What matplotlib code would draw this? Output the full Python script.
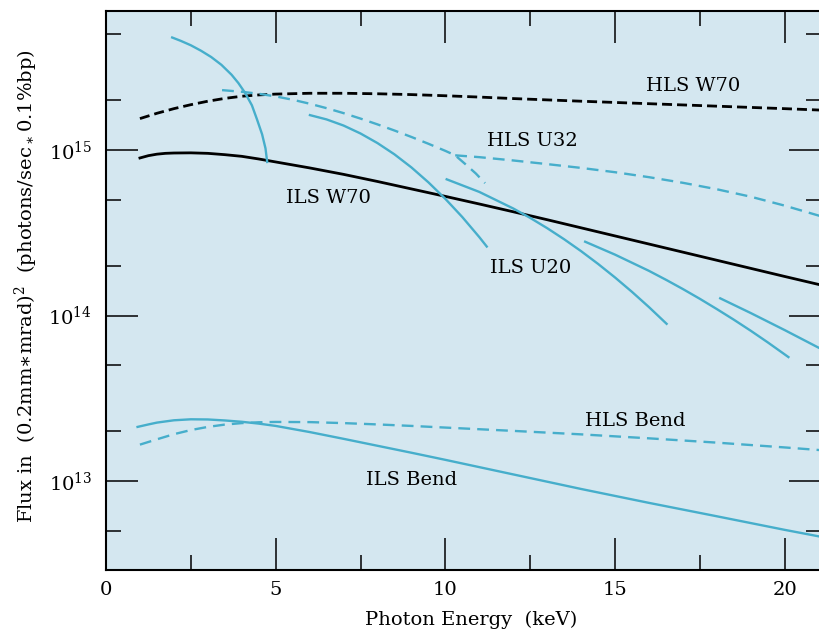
import numpy as np
import matplotlib
matplotlib.use("Agg")
from matplotlib import pyplot as plt
from matplotlib.ticker import LogLocator, MultipleLocator, LogFormatterMathtext, NullFormatter

plt.rcParams['font.family'] = ['DejaVu Serif']
plt.rcParams['mathtext.default'] = 'regular'

# photon energy (keV) and log10 of flux
hls_w70_x = [1.0, 1.5, 2.0, 2.5, 3.0, 3.5, 4.0, 4.5, 5.0, 6.0, 7.0, 8.0, 9.0, 10.0, 11.0, 12.0, 14.0, 16.0, 18.0, 20.0, 21.1]
hls_w70_log = [15.19, 15.222, 15.25, 15.274, 15.295, 15.312, 15.325, 15.333, 15.338, 15.343, 15.343, 15.34,
               15.335, 15.328, 15.32, 15.311, 15.295, 15.28, 15.265, 15.25, 15.241]

ils_w70_x = [1.0, 1.25, 1.5, 1.75, 2.0, 2.5, 3.0, 3.5, 4.0, 4.5, 5.0, 6.0, 7.0, 8.0, 9.0, 10.0, 11.0, 12.0,
             13.0, 14.0, 15.0, 16.0, 17.0, 18.0, 19.0, 20.0, 21.1]
ils_w70_log = [14.952, 14.966, 14.975, 14.98, 14.982, 14.983, 14.98, 14.972, 14.962, 14.946, 14.928, 14.892,
               14.853, 14.81, 14.765, 14.72, 14.674, 14.627, 14.579, 14.53, 14.481, 14.432, 14.383, 14.334,
               14.285, 14.236, 14.183]

# HLS U32, two pieces
hls_u32a_x = [3.42, 4.0, 4.5, 5.0, 5.5, 6.0, 6.5, 7.0, 7.5, 8.0, 8.5, 9.0, 9.5, 10.0, 10.29, 10.6, 10.9, 11.17]
hls_u32a_log = [15.362, 15.352, 15.34, 15.324, 15.304, 15.28, 15.253, 15.223, 15.19, 15.155, 15.118, 15.079,
                15.038, 14.995, 14.968, 14.913, 14.858, 14.80]
hls_u32b_x = [10.29, 11.0, 12.0, 13.0, 14.0, 15.0, 16.0, 17.0, 18.0, 19.0, 20.0, 21.1]
hls_u32b_log = [14.968, 14.957, 14.937, 14.915, 14.892, 14.866, 14.836, 14.802, 14.763, 14.718, 14.664, 14.598]

# ILS U20 harmonics
ils_u20_x = [
    [1.95, 2.2, 2.5, 2.8, 3.1, 3.4, 3.7, 3.9, 4.1, 4.3, 4.45, 4.6, 4.7, 4.75],
    [6.01, 6.5, 7.0, 7.5, 8.0, 8.5, 9.0, 9.5, 10.0, 10.5, 11.0, 11.22],
    [10.04, 11.0, 12.0, 12.5, 13.0, 13.5, 14.0, 14.5, 15.0, 15.5, 16.0, 16.52],
    [14.12, 15.0, 16.0, 16.52, 17.0, 17.5, 18.0, 18.5, 19.0, 19.5, 20.11],
    [18.1, 19.0, 20.0, 21.1],
]
ils_u20_log = [
    [15.68, 15.66, 15.633, 15.6, 15.562, 15.515, 15.455, 15.405, 15.345, 15.27, 15.185, 15.095, 15.01, 14.928],
    [15.211, 15.185, 15.148, 15.10, 15.042, 14.974, 14.895, 14.805, 14.705, 14.595, 14.474, 14.417],
    [14.823, 14.747, 14.647, 14.59, 14.528, 14.461, 14.389, 14.312, 14.23, 14.143, 14.051, 13.95],
    [14.446, 14.368, 14.27, 14.214, 14.16, 14.101, 14.039, 13.975, 13.908, 13.838, 13.749],
    [14.104, 14.015, 13.912, 13.795],
]

hls_bend_x = [1.0, 1.5, 2.0, 2.5, 3.0, 3.5, 4.0, 4.5, 5.0, 6.0, 7.0, 8.0, 9.0, 10.0, 12.0, 14.0, 16.0, 18.0, 20.0, 21.1]
hls_bend_log = [13.22, 13.252, 13.283, 13.308, 13.327, 13.341, 13.35, 13.355, 13.357, 13.356, 13.35, 13.342,
                13.333, 13.323, 13.303, 13.282, 13.258, 13.232, 13.203, 13.186]

ils_bend_x = [0.93, 1.25, 1.5, 2.0, 2.5, 3.0, 3.5, 4.0, 4.5, 5.0, 6.0, 7.0, 8.0, 9.0, 10.0, 12.0, 14.0, 16.0,
              18.0, 20.0, 21.1]
ils_bend_log = [13.327, 13.342, 13.353, 13.367, 13.373, 13.372, 13.366, 13.358, 13.347, 13.333, 13.296, 13.255,
                13.213, 13.171, 13.128, 13.04, 12.952, 12.868, 12.787, 12.705, 12.662]

labels = ["HLS W70", "HLS U32", "ILS W70", "ILS U20", "HLS Bend", "ILS Bend"]
label_x = [17.3, 12.55, 6.55, 12.5, 15.6, 9.0]
label_log = [15.386, 15.054, 14.71, 14.288, 13.364, 13.006]

cyan = '#46aecb'
bg = '#d4e7f0'

fig = plt.figure(figsize=(8.2, 6.34), dpi=100)
ax = fig.add_axes([106/820, 64/634, 715/820, 559/634])
ax.set_facecolor(bg)

def flux(v):
    return 10 ** np.array(v)

ax.plot(hls_w70_x, flux(hls_w70_log), color='black', lw=2.0, dashes=(3.6, 1.8))
ax.plot(ils_w70_x, flux(ils_w70_log), color='black', lw=2.0)
ax.plot(hls_u32a_x, flux(hls_u32a_log), color=cyan, lw=1.7, dashes=(5, 3))
ax.plot(hls_u32b_x, flux(hls_u32b_log), color=cyan, lw=1.7, dashes=(5, 3))
for xs, ys in zip(ils_u20_x, ils_u20_log):
    ax.plot(xs, flux(ys), color=cyan, lw=1.7)
ax.plot(hls_bend_x, flux(hls_bend_log), color=cyan, lw=1.7, dashes=(5, 3))
ax.plot(ils_bend_x, flux(ils_bend_log), color=cyan, lw=1.7)

for t, x, y in zip(labels, label_x, label_log):
    ax.text(x, 10 ** y, t, fontsize=14, ha='center', va='center')

ax.set_yscale('log')
ax.set_xlim(0, 21.07)
ax.set_ylim(2.9e12, 6.92e15)

ax.xaxis.set_major_locator(MultipleLocator(5))
ax.xaxis.set_minor_locator(MultipleLocator(2.5))
ax.yaxis.set_major_locator(LogLocator(base=10))
ax.yaxis.set_minor_locator(LogLocator(base=10, subs=(2, 5)))
ax.yaxis.set_major_formatter(LogFormatterMathtext())
ax.yaxis.set_minor_formatter(NullFormatter())

ax.tick_params(which='both', direction='in', top=True, right=True, width=1.1, colors='black')
ax.tick_params(which='major', length=23, labelsize=14)
ax.tick_params(which='minor', length=11)
ax.tick_params(axis='x', pad=8)
ax.tick_params(axis='y', pad=10)
for s in ax.spines.values():
    s.set_linewidth(1.5)

fig.text(471/820, 1 - 620/634, "Photon Energy  (keV)", fontsize=14, ha='center', va='center')
fig.text(26/820, 1 - 286/634, r"Flux in  (0.2mm$\ast$mrad)$^2$  (photons/sec$_\ast$0.1%bp)",
         fontsize=14, ha='center', va='center', rotation=90)

fig.savefig('out.png', dpi=100)
